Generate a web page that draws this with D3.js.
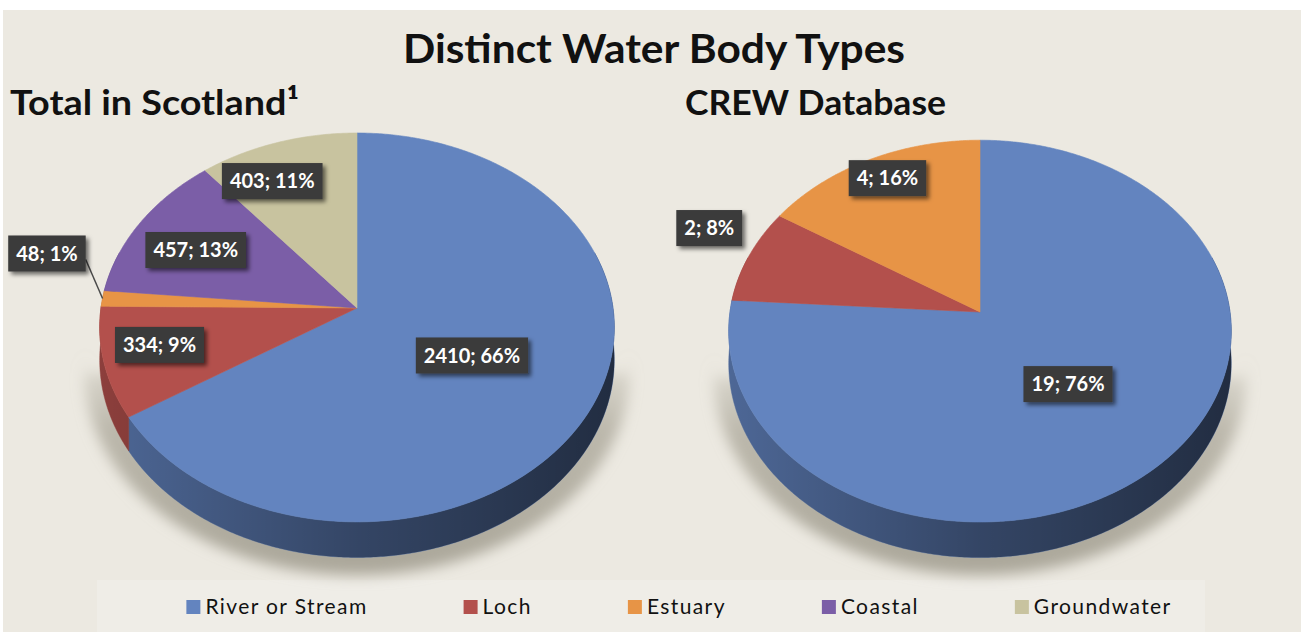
<!DOCTYPE html>
<html><head><meta charset="utf-8">
<script src="https://cdn.jsdelivr.net/npm/d3@7"></script>
<style>body{margin:0;background:#fff;overflow:hidden}svg{display:block}</style>
</head><body>
<script>
// ---------- DATA ----------
const categories = ["River or Stream", "Loch", "Estuary", "Coastal", "Groundwater"];
const scotlandValues = [2410, 334, 48, 457, 403];
const crewValues = [19, 2, 4, 0, 0];
const colors = ["#6384bf", "#b3504c", "#e79446", "#7b5ea7", "#c8c39f"];
const chartTitle = "Distinct Water Body Types";
const pieTitles = ["Total in Scotland\u00b9", "CREW Database"];

// ---------- LAYOUT ----------
const W = 1301, H = 632;
const K = 0.1, DEPTH = 32;
const pies = [
  {values: scotlandValues, title: pieTitles[0], cx: 357, cy: 308, a: 256, b: 192.5,
   titleX: 10, titleLen: 289,
   labels: [{r: 0.5, dt: 0}, {r: 0.78, dt: 2}, {r: 1.28, dt: 10.3, leader: true}, {r: 0.72, dt: -2.2}, {r: 0.79, dt: -6.8}]},
  {values: crewValues, title: pieTitles[1], cx: 980, cy: 312, a: 250, b: 189,
   titleX: 685, titleLen: 261,
   labels: [{r: 0.5, dt: 0.5}, {r: 1.225, dt: 4.3}, {r: 0.86, dt: 1.2}, null, null]}
];

const svg = d3.select("body").append("svg").attr("width", W).attr("height", H);
const defs = svg.append("defs");

// background
svg.append("rect").attr("width", W).attr("height", H).attr("fill", "#ffffff");
svg.append("rect").attr("x", 3).attr("y", 10).attr("width", W - 3).attr("height", H - 10).attr("fill", "#ece9e1");
svg.append("rect").attr("x", 97).attr("y", 580).attr("width", 1108).attr("height", 52).attr("fill", "#efede7");

// filters
const blur = defs.append("filter").attr("id", "shadowBlur").attr("x", "-20%").attr("y", "-20%").attr("width", "140%").attr("height", "140%");
blur.append("feGaussianBlur").attr("stdDeviation", 7);
const ds = defs.append("filter").attr("id", "boxShadow").attr("x", "-20%").attr("y", "-30%").attr("width", "150%").attr("height", "170%");
ds.append("feDropShadow").attr("dx", 3).attr("dy", 3).attr("stdDeviation", 2).attr("flood-color", "#000").attr("flood-opacity", 0.55);

const shade = defs.append("linearGradient").attr("id", "sideShade").attr("x1", "0%").attr("x2", "100%").attr("y1", "0%").attr("y2", "0%");
shade.append("stop").attr("offset", "0%").attr("stop-color", "#000").attr("stop-opacity", 0.08);
shade.append("stop").attr("offset", "50%").attr("stop-color", "#000").attr("stop-opacity", 0.38);
shade.append("stop").attr("offset", "100%").attr("stop-color", "#000").attr("stop-opacity", 0.6);

const shGrad = defs.append("linearGradient").attr("id", "shadowFade").attr("x1", "0%").attr("x2", "0%").attr("y1", "0%").attr("y2", "100%");
shGrad.append("stop").attr("offset", "0%").attr("stop-color", "#b9b5a8").attr("stop-opacity", 0.2);
shGrad.append("stop").attr("offset", "35%").attr("stop-color", "#b3afa2").attr("stop-opacity", 0.85);
shGrad.append("stop").attr("offset", "100%").attr("stop-color", "#aaa699").attr("stop-opacity", 1);

// title
svg.append("text").attr("x", 403).attr("y", 63).attr("textLength", 502).attr("lengthAdjust", "spacingAndGlyphs")
  .attr("font-family", "Lato, 'Open Sans', sans-serif").attr("font-weight", 700).attr("font-size", 40)
  .attr("fill", "#111").text(chartTitle);

const line = d3.line();
const pieGen = d3.pie().sort(null).value(d => d.value);

function proj(g, th, r, dz) {
  const u = Math.sin(th) * r, v = -Math.cos(th) * r;
  const s = 1 / (1 - K * v);
  return [g.cx + g.a * u * s, g.cy + (g.b * v + dz) * s];
}
function arcPts(g, t0, t1, r, dz) {
  const n = Math.max(2, Math.ceil(Math.abs(t1 - t0) / (Math.PI / 360)));
  const pts = [];
  for (let i = 0; i <= n; i++) pts.push(proj(g, t0 + (t1 - t0) * i / n, r, dz));
  return pts;
}

const SIDE0 = Math.PI / 2 - 0.3, SIDE1 = 3 * Math.PI / 2 + 0.3;

pies.forEach(g => {
  const data = categories.map((c, i) => ({cat: c, value: g.values[i], color: colors[i], idx: i}));
  const total = d3.sum(g.values);
  const arcs = pieGen(data);
  const grp = svg.append("g");

  // pie title
  svg.append("text").attr("x", g.titleX).attr("y", 115).attr("textLength", g.titleLen).attr("lengthAdjust", "spacingAndGlyphs")
    .attr("font-family", "Lato, 'Open Sans', sans-serif").attr("font-weight", 700).attr("font-size", 35)
    .attr("fill", "#111").text(g.title);

  // soft shadow below/behind
  const sg = {cx: g.cx, cy: g.cy, a: g.a * 1.06, b: g.b * 1.02};
  const shPts = [[g.cx - sg.a, g.cy + 65]].concat(arcPts(sg, 3 * Math.PI / 2, Math.PI / 2, 1, DEPTH + 12)).concat([[g.cx + sg.a, g.cy + 65]]);
  grp.append("path").attr("d", line(shPts) + "Z").attr("fill", "url(#shadowFade)").attr("filter", "url(#shadowBlur)");

  // side walls
  arcs.forEach(d => {
    if (d.value <= 0) return;
    const t0 = Math.max(d.startAngle, SIDE0), t1 = Math.min(d.endAngle, SIDE1);
    if (t1 <= t0) return;
    const top = arcPts(g, t0, t1, 1, 0);
    const bot = arcPts(g, t1, t0, 1, DEPTH);
    grp.append("path").attr("d", line(top.concat(bot)) + "Z")
      .attr("fill", d3.color(d.data.color).darker(0.45)).attr("stroke", d3.color(d.data.color).darker(0.45)).attr("stroke-width", 0.5);
  });
  // shading overlay of side
  const topAll = arcPts(g, SIDE0, SIDE1, 1, 0), botAll = arcPts(g, SIDE1, SIDE0, 1, DEPTH);
  grp.append("path").attr("d", line(topAll.concat(botAll)) + "Z").attr("fill", "url(#sideShade)");

  // top faces
  arcs.forEach(d => {
    if (d.value <= 0) return;
    const pts = [[g.cx, g.cy]].concat(arcPts(g, d.startAngle, d.endAngle, 1, 0));
    grp.append("path").attr("d", line(pts) + "Z").attr("fill", d.data.color)
      .attr("stroke", d.data.color).attr("stroke-width", 0.6).attr("stroke-linejoin", "round");
  });

  // labels
  arcs.forEach(d => {
    const L = g.labels[d.data.idx];
    if (!L || d.value <= 0) return;
    const mid = (d.startAngle + d.endAngle) / 2 + L.dt * Math.PI / 180;
    const [x, y] = proj(g, mid, L.r, 0);
    const txt = d.value + "; " + Math.round(d.value / total * 100) + "%";
    const lg = svg.append("g").attr("transform", `translate(${x},${y})`);
    const rect = lg.append("rect").attr("fill", "#3a3a3a").attr("filter", "url(#boxShadow)");
    const t = lg.append("text").attr("text-anchor", "middle").attr("dy", "0.36em")
      .attr("font-family", "Lato, 'Open Sans', sans-serif").attr("font-weight", 700).attr("font-size", 20)
      .attr("fill", "#fff").text(txt);
    const w = t.node().getComputedTextLength() + 16, h = 36;
    rect.attr("x", -w / 2).attr("y", -h / 2).attr("width", w).attr("height", h);
    if (L.leader) {
      const [ex, ey] = proj(g, (d.startAngle + d.endAngle) / 2, 1, 0);
      svg.insert("path", () => lg.node()).attr("d", line([[x + w / 2, y + 6], [ex, ey]]))
        .attr("stroke", "#4a4a4a").attr("stroke-width", 1.5).attr("fill", "none");
    }
  });
});

// legend
const lgItems = svg.append("g");
const legendFont = {family: "Lato, 'Open Sans', sans-serif", size: 21};
let widths = [];
const tmp = categories.map(c => {
  const t = lgItems.append("text").attr("font-family", legendFont.family).attr("font-size", legendFont.size)
    .attr("letter-spacing", 1.4).attr("fill", "#111").text(c);
  widths.push(t.node().getComputedTextLength());
  return t;
});
const SQ = 14, SQGAP = 5, ITEMGAP = 96;
const totalW = d3.sum(widths) + categories.length * (SQ + SQGAP) + (categories.length - 1) * ITEMGAP;
let lx = 679 - totalW / 2;
categories.forEach((c, i) => {
  lgItems.append("rect").attr("x", lx).attr("y", 600).attr("width", SQ).attr("height", SQ).attr("fill", colors[i]);
  tmp[i].attr("x", lx + SQ + SQGAP).attr("y", 614);
  lx += SQ + SQGAP + widths[i] + ITEMGAP;
});
</script>
</body></html>
